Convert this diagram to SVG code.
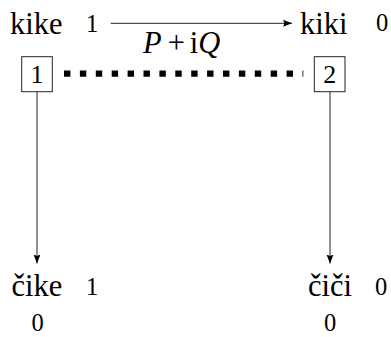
<svg xmlns="http://www.w3.org/2000/svg" width="391" height="337" viewBox="0 0 391 337">
<style>
text{font-family:"Liberation Serif","Times New Roman",serif}
.big{font-size:30.5px}
.num{font-size:24.5px}
.box{fill:#fff;stroke:#222;stroke-width:1}
.arr{stroke:#222;stroke-width:1;fill:none;marker-end:url(#ah)}
.dot{stroke:#000;stroke-width:6.2;stroke-dasharray:6.4 9.5;fill:none}
</style>
<defs>
<marker id="ah" markerWidth="10" markerHeight="8" refX="9" refY="3.5" orient="auto" markerUnits="userSpaceOnUse">
<path d="M0,0 L9,3.5 L0,7 L1.5,3.5 z" fill="#000"/>
</marker>
</defs>
<rect width="391" height="337" fill="#fff"/>
<g fill="#000">
<g id="connectors">
<line class="arr" x1="110.7" y1="23.3" x2="292" y2="23.3"/>
<text class="big" x="143" y="52.5"><tspan font-style="italic">P</tspan><tspan dx="6">+</tspan><tspan dx="5">i</tspan><tspan font-style="italic">Q</tspan></text>
<line class="dot" x1="64" y1="73.7" x2="303.3" y2="73.7"/>
<line class="arr" x1="37" y1="91.7" x2="37" y2="263.5"/>
<line class="arr" x1="330" y1="91.7" x2="330" y2="263.5"/>
</g>
<g id="kike">
<text class="big" x="10" y="33.5">kike</text>
<text class="num" x="86" y="31.7">1</text>
</g>
<g id="kiki">
<text class="big" x="300" y="34">kiki</text>
<text class="num" x="376" y="30.5">0</text>
</g>
<g id="n1">
<rect class="box" x="21.7" y="56.7" width="30.6" height="35"/>
<text x="37" y="83.3" text-anchor="middle" font-size="26">1</text>
</g>
<g id="n2">
<rect class="box" x="314.3" y="56.7" width="30.7" height="35"/>
<text x="329.7" y="83.3" text-anchor="middle" font-size="26">2</text>
</g>
<g id="cike">
<text class="big" x="11.5" y="296">čike</text>
<text class="num" x="86" y="295">1</text>
<text class="num" x="37.5" y="331" text-anchor="middle">0</text>
</g>
<g id="cici">
<text class="big" x="308" y="296">čiči</text>
<text class="num" x="375" y="295">0</text>
<text class="num" x="330" y="331" text-anchor="middle">0</text>
</g>
</g>
</svg>
